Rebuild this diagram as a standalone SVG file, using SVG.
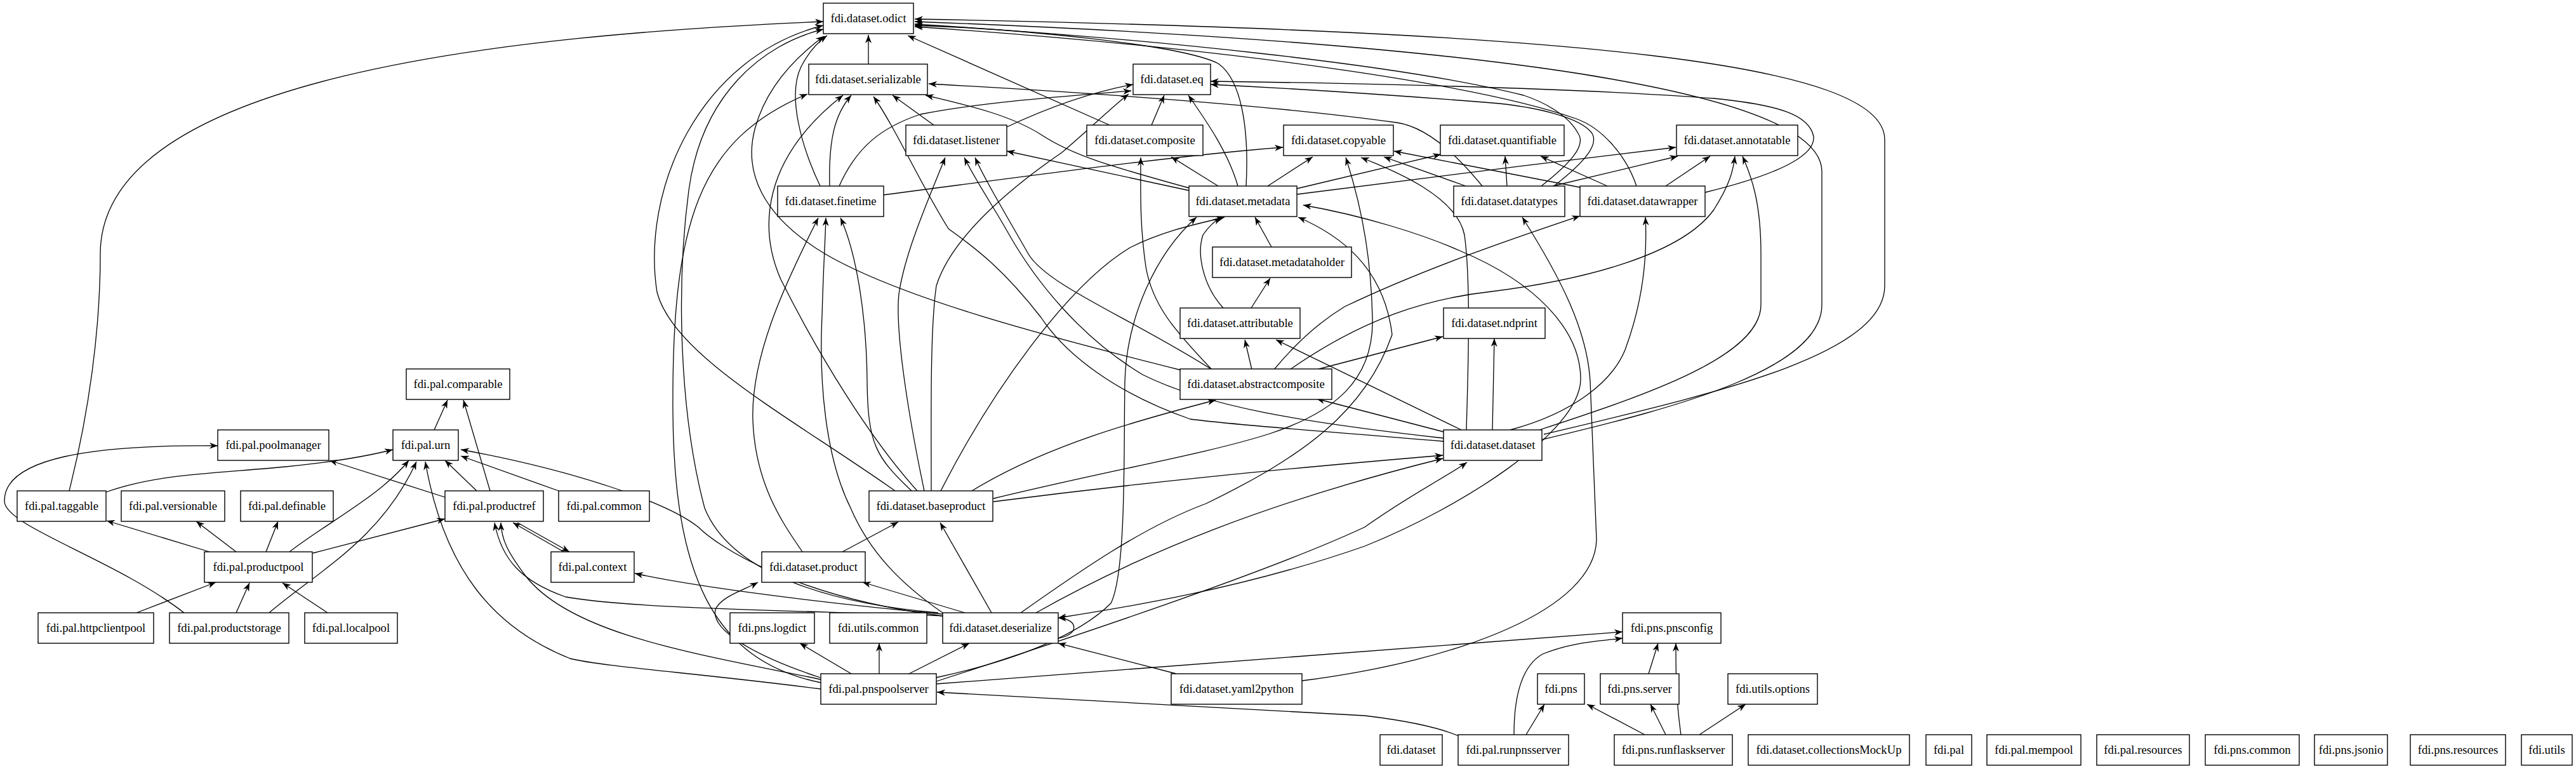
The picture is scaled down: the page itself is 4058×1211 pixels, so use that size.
<svg xmlns="http://www.w3.org/2000/svg" width="4058" height="1211" viewBox="0 0 4058 1211">
<style>
.n rect{fill:#fff;stroke:#000;stroke-width:1.4}
.n text{font-family:"Liberation Serif","Times New Roman",serif;font-size:18.67px;text-anchor:middle;fill:#000}
#edges path{fill:none;stroke:#000;stroke-width:1.3;marker-end:url(#ah)}
#edges path.both{marker-start:url(#ah)}
</style>
<defs>
<marker id="ah" markerUnits="userSpaceOnUse" markerWidth="14" markerHeight="10" refX="13" refY="5" orient="auto-start-reverse">
<path d="M0,0 L13,5 L0,10 L4,5 Z" fill="#000"/>
</marker>
</defs>
<rect width="4058" height="1211" fill="#fff"/>
<g id="edges">
<path d="M1368,101 L1368,55"/>
<path d="M1748,197 L1430,56"/>
<path d="M1292,293 C1262,230 1240,150 1262,105 C1275,80 1290,65 1303,56"/>
<path d="M1861,583 C1650,530 1420,470 1300,400 C1200,340 1170,270 1190,200 C1210,130 1260,85 1298,57"/>
<path d="M109,773 C140,650 158,520 158,400 C158,120 800,55 1297,34"/>
<path d="M1410,773 C1250,660 1060,560 1035,460 C1010,300 1100,90 1297,40"/>
<path d="M1478,965 C1300,950 1150,900 1110,800 C1070,650 1065,450 1085,300 C1105,150 1200,70 1297,46"/>
<path d="M1963,293 C1968,200 1955,125 1919,100 C1860,70 1600,45 1441,40"/>
<path d="M2428,293 C2470,260 2500,230 2486,210 C2470,180 2430,160 2400,150 C2200,100 1800,60 1441,38"/>
<path d="M2578,293 C2560,240 2520,200 2483,187 C2350,140 2000,80 1441,42"/>
<path d="M2432,684 C2700,620 2969,560 2969,450 L2969,220 C2969,100 2500,50 1441,30"/>
<path d="M2430,692 C2650,640 2870,580 2870,480 L2870,270 C2870,150 2400,70 1441,34"/>
<path d="M1471,197 L1406,150"/>
<path d="M1873,296 C1750,262 1690,245 1640,212 C1590,180 1520,165 1458,150"/>
<path d="M2335,293 C2300,250 2250,200 2200,193 C2000,165 1700,145 1463,132"/>
<path d="M1307,293 C1305,220 1315,180 1341,150"/>
<path d="M1293,1075 C1120,1040 1062,900 1060,650 C1058,350 1100,220 1272,148"/>
<path d="M1445,773 C1370,690 1290,560 1230,440 C1195,360 1200,250 1328,150"/>
<path d="M2274,695 C2100,680 1950,670 1875,660 C1760,620 1680,560 1640,500 C1570,410 1520,380 1494,360 C1450,290 1410,200 1376,152"/>
<path d="M1814,197 L1834,150"/>
<path d="M1950,293 C1935,240 1900,190 1872,150"/>
<path d="M1586,200 C1650,170 1720,145 1785,133"/>
<path d="M1322,293 C1350,230 1390,200 1450,180 C1550,160 1700,150 1782,143"/>
<path d="M1467,773 C1467,650 1465,520 1475,450 C1500,370 1600,290 1673,240 C1720,200 1750,170 1778,148"/>
<path d="M2448,293 C2490,260 2520,230 2508,210 C2490,185 2420,168 2350,162 C2200,150 2050,140 1907,133"/>
<path d="M2686,303 C2780,280 2860,250 2857,215 C2850,180 2800,165 2700,155 C2500,140 2200,132 1907,128"/>
<path d="M1873,300 L1586,238"/>
<path d="M1456,773 C1430,650 1410,520 1416,463 C1425,400 1460,320 1489,248"/>
<path d="M1909,582 C1780,500 1650,450 1620,400 C1580,330 1550,280 1536,248"/>
<path d="M2274,690 C2050,665 1900,640 1800,590 C1700,530 1630,440 1590,370 C1565,325 1540,290 1519,248"/>
<path d="M1919,293 L1845,247"/>
<path d="M1909,582 C1850,520 1815,480 1805,420 C1795,350 1797,300 1797,248"/>
<path d="M1997,293 L2068,247"/>
<path d="M1391,307 C1600,280 1850,245 2021,232"/>
<path d="M2309,293 L2180,247"/>
<path d="M2489,295 L2196,238"/>
<path d="M1565,785 C1750,740 1900,715 2000,683 C2100,650 2165,600 2162,500 C2160,420 2150,340 2120,248"/>
<path d="M2310,677 C2312,600 2318,450 2307,370 C2295,310 2200,270 2144,248"/>
<path d="M2043,297 L2270,243"/>
<path d="M2374,293 L2371,246"/>
<path d="M2532,293 L2427,246"/>
<path d="M2043,306 C2200,285 2450,255 2640,232"/>
<path d="M2446,293 L2643,246"/>
<path d="M2624,293 L2694,246"/>
<path d="M2032,582 C2150,500 2250,470 2350,459 C2500,440 2650,400 2700,330 C2725,290 2730,270 2733,246"/>
<path d="M2425,677 C2600,620 2774,560 2774,480 L2774,400 C2774,320 2760,280 2745,246"/>
<path d="M2003,389 L1977,342"/>
<path d="M1927,485 C1895,450 1885,400 1895,370 C1905,355 1915,348 1923,342"/>
<path d="M1475,1067 C1600,1040 1700,1000 1750,950 C1775,900 1770,700 1772,600 C1775,500 1820,400 1885,342"/>
<path d="M1482,773 C1560,620 1680,450 1780,390 C1840,360 1900,350 1929,342"/>
<path d="M1608,965 C1700,900 1800,830 1900,793 C2050,720 2150,650 2193,527 C2180,420 2110,370 2045,342"/>
<path class="both" d="M2053,323 C2150,340 2244,370 2300,395 C2420,445 2490,520 2490,597 C2490,680 2300,800 2150,860 C1950,930 1750,960 1667,973"/>
<path d="M1972,582 L1961,535"/>
<path d="M2302,677 L2010,535"/>
<path d="M1971,485 L2001,438"/>
<path d="M2074,582 L2273,530"/>
<path d="M2351,677 L2354,533"/>
<path d="M1531,773 C1650,700 1800,660 1915,630"/>
<path d="M2274,680 L2074,628"/>
<path d="M2007,582 C2050,530 2090,500 2118,483 C2250,420 2400,370 2489,340"/>
<path d="M2379,677 C2480,650 2540,600 2560,551 C2590,470 2595,400 2592,342"/>
<path d="M2051,1072 C2300,1040 2512,960 2515,850 L2505,600 C2500,520 2460,440 2398,342"/>
<path d="M1565,790 C1800,760 2000,740 2273,717"/>
<path d="M1632,965 C1800,870 2000,790 2273,722"/>
<path d="M1475,1073 C1700,1000 2000,900 2150,830 C2220,780 2280,750 2311,728"/>
<path d="M1264,869 C1230,820 1190,760 1186,663 C1182,560 1240,440 1289,343"/>
<path d="M1436,773 C1380,720 1367,700 1366,600 C1365,500 1350,400 1324,343"/>
<path d="M1485,965 C1420,920 1370,870 1340,800 C1300,720 1290,600 1295,497 C1297,420 1300,380 1301,343"/>
<path d="M1327,869 L1415,822"/>
<path d="M1562,965 L1481,823"/>
<path d="M1520,965 L1359,917"/>
<path d="M1292,1067 C1180,1030 1120,990 1127,960 C1135,940 1170,930 1194,917"/>
<path d="M1667,1005 C1700,1000 1700,975 1667,973"/>
<path d="M1432,1061 L1527,1013"/>
<path d="M1853,1061 L1667,1013"/>
<path d="M1341,1061 L1260,1013"/>
<path d="M1385,1061 L1385,1013"/>
<path d="M2300,1160 C2260,1142 2200,1133 2150,1127 L1476,1090"/>
<path d="M1475,1077 L2556,995"/>
<path d="M2385,1157 C2385,1100 2395,1050 2430,1030 C2480,1010 2520,1010 2556,1005"/>
<path d="M2597,1061 L2612,1013"/>
<path d="M2648,1157 C2640,1100 2640,1060 2640,1013"/>
<path d="M2404,1157 L2433,1109"/>
<path d="M2591,1157 L2500,1109"/>
<path d="M2624,1157 L2600,1109"/>
<path d="M2677,1157 L2750,1109"/>
<path d="M684,677 L705,630"/>
<path d="M772,773 L730,630"/>
<path d="M751,773 L701,725"/>
<path d="M701,783 L519,725"/>
<path d="M815,823 L897,869"/>
<path d="M888,869 L808,823"/>
<path d="M880,773 L726,718"/>
<path d="M167,775 C250,745 350,745 450,735 C520,728 580,718 619,708"/>
<path d="M330,869 L168,820"/>
<path d="M372,869 L309,821"/>
<path d="M419,869 L438,821"/>
<path d="M456,869 C520,820 600,780 644,725"/>
<path d="M493,871 L701,817"/>
<path d="M215,965 L340,917"/>
<path d="M372,965 L393,918"/>
<path d="M516,965 L445,918"/>
<path d="M424,965 C500,900 600,850 656,727"/>
<path d="M290,965 C180,880 10,830 7,790 C5,720 150,700 343,702"/>
<path d="M1293,1085 C1100,1060 950,1050 898,1037 C780,990 700,900 670,727"/>
<path d="M1485,970 C1250,940 1130,860 1100,830 C1050,790 900,740 726,708"/>
<path d="M1485,970 C1300,962 1000,960 891,940 C820,915 790,880 779,823"/>
<path d="M1293,1070 C1100,1030 900,1000 828,907 C800,870 790,850 789,823"/>
<path d="M1485,967 C1300,950 1100,925 1000,903"/>
</g>
<g id="odict" class="n"><rect x="1297" y="5" width="142" height="48"/><text x="1368" y="35">fdi.dataset.odict</text></g>
<g id="serializable" class="n"><rect x="1274" y="101" width="187" height="48"/><text x="1367.5" y="131">fdi.dataset.serializable</text></g>
<g id="eq" class="n"><rect x="1785" y="101" width="122" height="48"/><text x="1846" y="131">fdi.dataset.eq</text></g>
<g id="listener" class="n"><rect x="1427" y="197" width="159" height="48"/><text x="1506.5" y="227">fdi.dataset.listener</text></g>
<g id="composite" class="n"><rect x="1712" y="197" width="183" height="48"/><text x="1803.5" y="227">fdi.dataset.composite</text></g>
<g id="copyable" class="n"><rect x="2022" y="197" width="173" height="48"/><text x="2108.5" y="227">fdi.dataset.copyable</text></g>
<g id="quantifiable" class="n"><rect x="2269" y="197" width="195" height="48"/><text x="2366.5" y="227">fdi.dataset.quantifiable</text></g>
<g id="annotatable" class="n"><rect x="2641" y="197" width="191" height="48"/><text x="2736.5" y="227">fdi.dataset.annotatable</text></g>
<g id="finetime" class="n"><rect x="1225" y="293" width="167" height="48"/><text x="1308.5" y="323">fdi.dataset.finetime</text></g>
<g id="metadata" class="n"><rect x="1873" y="293" width="170" height="48"/><text x="1958" y="323">fdi.dataset.metadata</text></g>
<g id="datatypes" class="n"><rect x="2290" y="293" width="175" height="48"/><text x="2377.5" y="323">fdi.dataset.datatypes</text></g>
<g id="datawrapper" class="n"><rect x="2489" y="293" width="197" height="48"/><text x="2587.5" y="323">fdi.dataset.datawrapper</text></g>
<g id="metadataholder" class="n"><rect x="1910" y="389" width="219" height="48"/><text x="2019.5" y="419">fdi.dataset.metadataholder</text></g>
<g id="attributable" class="n"><rect x="1859" y="485" width="189" height="48"/><text x="1953.5" y="515">fdi.dataset.attributable</text></g>
<g id="ndprint" class="n"><rect x="2274" y="485" width="160" height="48"/><text x="2354" y="515">fdi.dataset.ndprint</text></g>
<g id="comparable" class="n"><rect x="640" y="581" width="163" height="48"/><text x="721.5" y="611">fdi.pal.comparable</text></g>
<g id="abstractcomposite" class="n"><rect x="1859" y="581" width="239" height="48"/><text x="1978.5" y="611">fdi.dataset.abstractcomposite</text></g>
<g id="poolmanager" class="n"><rect x="343" y="677" width="175" height="48"/><text x="430.5" y="707">fdi.pal.poolmanager</text></g>
<g id="urn" class="n"><rect x="619" y="677" width="103" height="48"/><text x="670.5" y="707">fdi.pal.urn</text></g>
<g id="dataset" class="n"><rect x="2274" y="677" width="155" height="48"/><text x="2351.5" y="707">fdi.dataset.dataset</text></g>
<g id="taggable" class="n"><rect x="27" y="773" width="140" height="48"/><text x="97" y="803">fdi.pal.taggable</text></g>
<g id="versionable" class="n"><rect x="191" y="773" width="163" height="48"/><text x="272.5" y="803">fdi.pal.versionable</text></g>
<g id="definable" class="n"><rect x="379" y="773" width="146" height="48"/><text x="452" y="803">fdi.pal.definable</text></g>
<g id="productref" class="n"><rect x="701" y="773" width="155" height="48"/><text x="778.5" y="803">fdi.pal.productref</text></g>
<g id="common" class="n"><rect x="880" y="773" width="143" height="48"/><text x="951.5" y="803">fdi.pal.common</text></g>
<g id="baseproduct" class="n"><rect x="1369" y="773" width="195" height="48"/><text x="1466.5" y="803">fdi.dataset.baseproduct</text></g>
<g id="productpool" class="n"><rect x="322" y="869" width="170" height="48"/><text x="407" y="899">fdi.pal.productpool</text></g>
<g id="context" class="n"><rect x="868" y="869" width="131" height="48"/><text x="933.5" y="899">fdi.pal.context</text></g>
<g id="product" class="n"><rect x="1200" y="869" width="163" height="48"/><text x="1281.5" y="899">fdi.dataset.product</text></g>
<g id="httpclientpool" class="n"><rect x="60" y="965" width="182" height="48"/><text x="151" y="995">fdi.pal.httpclientpool</text></g>
<g id="productstorage" class="n"><rect x="267" y="965" width="188" height="48"/><text x="361" y="995">fdi.pal.productstorage</text></g>
<g id="localpool" class="n"><rect x="480" y="965" width="146" height="48"/><text x="553" y="995">fdi.pal.localpool</text></g>
<g id="logdict" class="n"><rect x="1150" y="965" width="133" height="48"/><text x="1216.5" y="995">fdi.pns.logdict</text></g>
<g id="utilscommon" class="n"><rect x="1307" y="965" width="153" height="48"/><text x="1383.5" y="995">fdi.utils.common</text></g>
<g id="deserialize" class="n"><rect x="1485" y="965" width="182" height="48"/><text x="1576" y="995">fdi.dataset.deserialize</text></g>
<g id="pnsconfig" class="n"><rect x="2556" y="965" width="155" height="48"/><text x="2633.5" y="995">fdi.pns.pnsconfig</text></g>
<g id="pnspoolserver" class="n"><rect x="1293" y="1061" width="182" height="48"/><text x="1384" y="1091">fdi.pal.pnspoolserver</text></g>
<g id="yaml2python" class="n"><rect x="1845" y="1061" width="206" height="48"/><text x="1948" y="1091">fdi.dataset.yaml2python</text></g>
<g id="pns" class="n"><rect x="2422" y="1061" width="74" height="48"/><text x="2459" y="1091">fdi.pns</text></g>
<g id="pnsserver" class="n"><rect x="2521" y="1061" width="124" height="48"/><text x="2583" y="1091">fdi.pns.server</text></g>
<g id="utilsoptions" class="n"><rect x="2722" y="1061" width="141" height="48"/><text x="2792.5" y="1091">fdi.utils.options</text></g>
<g id="fdidataset" class="n"><rect x="2174" y="1157" width="98" height="48"/><text x="2223" y="1187">fdi.dataset</text></g>
<g id="runpnsserver" class="n"><rect x="2297" y="1157" width="174" height="48"/><text x="2384" y="1187">fdi.pal.runpnsserver</text></g>
<g id="runflaskserver" class="n"><rect x="2543" y="1157" width="186" height="48"/><text x="2636" y="1187">fdi.pns.runflaskserver</text></g>
<g id="collectionsMockUp" class="n"><rect x="2754" y="1157" width="254" height="48"/><text x="2881" y="1187">fdi.dataset.collectionsMockUp</text></g>
<g id="fdipal" class="n"><rect x="3034" y="1157" width="72" height="48"/><text x="3070" y="1187">fdi.pal</text></g>
<g id="mempool" class="n"><rect x="3130" y="1157" width="148" height="48"/><text x="3204" y="1187">fdi.pal.mempool</text></g>
<g id="palresources" class="n"><rect x="3303" y="1157" width="146" height="48"/><text x="3376" y="1187">fdi.pal.resources</text></g>
<g id="pnscommon" class="n"><rect x="3474" y="1157" width="148" height="48"/><text x="3548" y="1187">fdi.pns.common</text></g>
<g id="pnsjsonio" class="n"><rect x="3646" y="1157" width="115" height="48"/><text x="3703.5" y="1187">fdi.pns.jsonio</text></g>
<g id="pnsresources" class="n"><rect x="3797" y="1157" width="150" height="48"/><text x="3872" y="1187">fdi.pns.resources</text></g>
<g id="fdiutils" class="n"><rect x="3972" y="1157" width="80" height="48"/><text x="4012" y="1187">fdi.utils</text></g>
</svg>
